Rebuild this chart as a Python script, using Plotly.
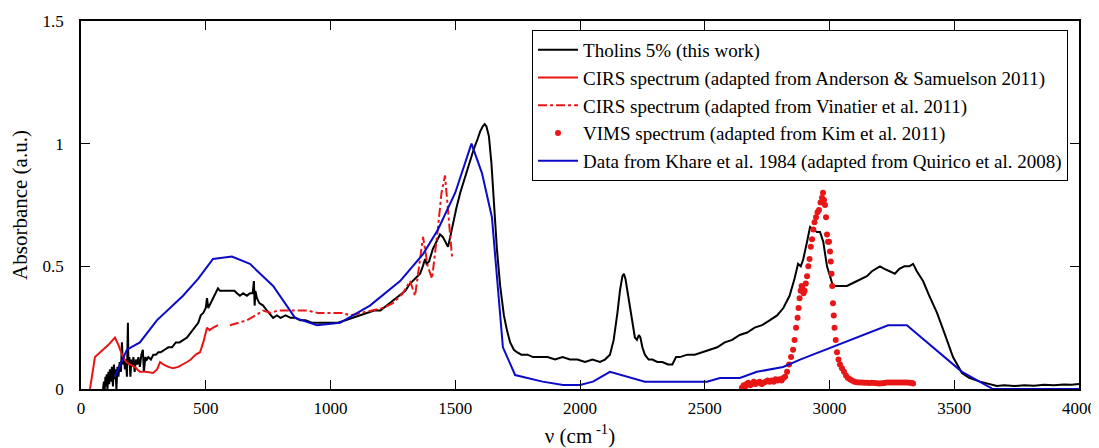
import plotly.graph_objects as go

# ---------------- data ----------------
tholins_x = [88, 92, 95, 98, 100, 103, 106, 110, 113, 116,
             120, 124, 128, 132, 135, 138, 142, 146, 150, 155,
             160, 164, 168, 172, 176, 180, 184, 188, 190, 194,
             198, 202, 206, 210, 215, 220, 225, 230, 236, 242,
             248, 252, 258, 264, 270, 280, 290, 300, 310, 320,
             335, 350, 365, 380, 395, 410, 425, 440, 455, 470,
             480, 490, 500, 505, 510, 520, 530, 540, 549, 557,
             570, 585, 600, 615, 625, 637, 650, 665, 677, 688,
             693, 696, 699, 705, 715, 730, 745, 760, 770, 785,
             800, 820, 840, 860, 878, 900, 925, 950, 975, 1000,
             1030, 1060, 1090, 1120, 1146, 1175, 1200, 1226, 1250, 1275,
             1300, 1319, 1340, 1359, 1370, 1379, 1385, 1395, 1410, 1425,
             1439, 1450, 1460, 1471, 1480, 1491, 1505, 1520, 1535, 1547,
             1560, 1575, 1590, 1600, 1610, 1618, 1625, 1635, 1645, 1655,
             1667, 1680, 1695, 1707, 1720, 1735, 1747, 1765, 1790, 1812,
             1840, 1870, 1900, 1930, 1960, 1990, 2020, 2050, 2080, 2100,
             2120, 2135, 2150, 2160, 2170, 2176, 2182, 2190, 2200, 2210,
             2220, 2228, 2236, 2242, 2250, 2260, 2275, 2290, 2310, 2330,
             2353, 2370, 2385, 2400, 2430, 2460, 2490, 2520, 2550, 2580,
             2610, 2640, 2670, 2700, 2730, 2760, 2790, 2815, 2840, 2860,
             2874, 2885, 2895, 2910, 2922, 2935, 2950, 2962, 2975, 2990,
             3002, 3014, 3030, 3050, 3070, 3090, 3110, 3130, 3150, 3170,
             3185, 3202, 3220, 3240, 3262, 3280, 3300, 3320, 3335, 3350,
             3375, 3400, 3431, 3460, 3495, 3531, 3560, 3603, 3640, 3671,
             3700, 3740, 3780, 3820, 3860, 3900, 3940, 3970, 4000]
tholins_y = [0.0, 0.03, 0.0, 0.05, 0.01, 0.06, 0.0, 0.07, 0.02, 0.08,
             0.03, 0.09, 0.01, 0.10, 0.04, 0.08, 0.0, 0.09, 0.05, 0.11,
             0.07, 0.19, 0.10, 0.13, 0.08, 0.12, 0.05, 0.27, 0.10, 0.13,
             0.05, 0.12, 0.09, 0.13, 0.07, 0.12, 0.10, 0.13, 0.09, 0.14,
             0.16, 0.07, 0.13, 0.12, 0.13, 0.12, 0.14, 0.14, 0.15, 0.15,
             0.16, 0.17, 0.17, 0.19, 0.19, 0.20, 0.21, 0.23, 0.25, 0.27,
             0.30, 0.31, 0.33, 0.37, 0.33, 0.35, 0.37, 0.39, 0.41, 0.40,
             0.40, 0.40, 0.40, 0.40, 0.39, 0.38, 0.39, 0.38, 0.39, 0.39,
             0.44, 0.34, 0.40, 0.37, 0.35, 0.34, 0.32, 0.30, 0.29, 0.30,
             0.29, 0.30, 0.29, 0.29, 0.28, 0.28, 0.27, 0.27, 0.27, 0.27,
             0.27, 0.28, 0.29, 0.30, 0.31, 0.32, 0.32, 0.34, 0.36, 0.38,
             0.40, 0.43, 0.45, 0.47, 0.50, 0.53, 0.51, 0.52, 0.57, 0.60,
             0.63, 0.62, 0.60, 0.58, 0.62, 0.68, 0.74, 0.80, 0.85, 0.89,
             0.94, 0.98, 1.02, 1.05, 1.07, 1.08, 1.07, 1.03, 0.92, 0.75,
             0.57, 0.42, 0.30, 0.24, 0.19, 0.16, 0.15, 0.14, 0.14, 0.13,
             0.13, 0.13, 0.12, 0.13, 0.12, 0.12, 0.11, 0.12, 0.11, 0.12,
             0.14, 0.20, 0.31, 0.40, 0.46, 0.47, 0.45, 0.40, 0.33, 0.26,
             0.21, 0.20, 0.22, 0.21, 0.17, 0.14, 0.12, 0.12, 0.11, 0.11,
             0.10, 0.10, 0.13, 0.13, 0.14, 0.14, 0.15, 0.16, 0.17, 0.19,
             0.20, 0.22, 0.23, 0.25, 0.26, 0.28, 0.30, 0.33, 0.38, 0.45,
             0.51, 0.50, 0.53, 0.60, 0.66, 0.65, 0.64, 0.64, 0.60, 0.50,
             0.46, 0.42, 0.42, 0.42, 0.42, 0.43, 0.44, 0.45, 0.46, 0.48,
             0.49, 0.50, 0.49, 0.48, 0.47, 0.49, 0.50, 0.50, 0.51, 0.48,
             0.44, 0.38, 0.31, 0.23, 0.13, 0.065, 0.045, 0.03, 0.02, 0.012,
             0.015, 0.012, 0.015, 0.013, 0.017, 0.015, 0.018, 0.017, 0.02]

anderson_x = [36, 56, 88, 110, 136, 150, 168, 182, 196, 215,
              236, 260, 289, 305, 317, 330, 350, 369, 390, 410,
              425, 440, 460, 477, 490, 505, 515, 530, 549]
anderson_y = [0.0, 0.13, 0.16, 0.18, 0.21, 0.18, 0.13, 0.11, 0.10, 0.09,
              0.07, 0.07, 0.065, 0.08, 0.11, 0.10, 0.09, 0.085, 0.09, 0.10,
              0.11, 0.12, 0.14, 0.15, 0.19, 0.25, 0.24, 0.25, 0.26]

vinatier_x = [597, 630, 665, 700, 730, 760, 790, 820, 850, 878,
              906, 950, 1000, 1050, 1078, 1120, 1160, 1210, 1250, 1290,
              1319, 1339, 1355, 1371, 1390, 1407, 1430, 1445, 1459, 1470,
              1487]
vinatier_y = [0.26, 0.27, 0.28, 0.30, 0.32, 0.31, 0.32, 0.32, 0.32, 0.32,
              0.32, 0.31, 0.31, 0.31, 0.30, 0.31, 0.32, 0.33, 0.35, 0.39,
              0.44, 0.38, 0.50, 0.62, 0.50, 0.45, 0.65, 0.80, 0.87, 0.75,
              0.54]

vims_x = [2649, 2656, 2662, 2668, 2675, 2682, 2690, 2697, 2704, 2712,
          2720, 2728, 2736, 2744, 2752, 2760, 2768, 2776, 2784, 2792,
          2800, 2808, 2815, 2822, 2830, 2838, 2846, 2854, 2860, 2866,
          2872, 2876, 2880, 2884, 2888, 2892, 2896, 2900, 2905, 2910,
          2915, 2920, 2925, 2930, 2935, 2940, 2946, 2952, 2958, 2964,
          2970, 2974, 2978, 2982, 2986, 2990, 2994, 2998, 3002, 3005,
          3008, 3011, 3014, 3017, 3020, 3025, 3030, 3036, 3042, 3050,
          3058, 3066, 3074, 3082, 3090, 3100, 3110, 3120, 3130, 3140,
          3150, 3160, 3170, 3180, 3190, 3200, 3210, 3220, 3230, 3240,
          3250, 3260, 3270, 3280, 3290, 3300, 3310, 3320, 3330, 3335]
vims_y = [0.005, 0.015, 0.01, 0.02, 0.025, 0.015, 0.02, 0.03, 0.02, 0.025,
          0.03, 0.02, 0.025, 0.03, 0.035, 0.03, 0.035, 0.03, 0.04, 0.035,
          0.04, 0.035, 0.045, 0.05, 0.07, 0.10, 0.13, 0.16, 0.20, 0.25,
          0.29, 0.33, 0.37, 0.40, 0.42, 0.41, 0.39, 0.40, 0.43, 0.46,
          0.50, 0.53, 0.58, 0.61, 0.65, 0.68, 0.70, 0.72, 0.73, 0.76,
          0.78, 0.80, 0.77, 0.75, 0.70, 0.63, 0.60, 0.60, 0.56, 0.52,
          0.47, 0.42, 0.35, 0.30, 0.25, 0.20, 0.15, 0.12, 0.10, 0.085,
          0.07, 0.055, 0.045, 0.04, 0.035, 0.03, 0.028, 0.027, 0.026, 0.025,
          0.025, 0.024, 0.025, 0.024, 0.023, 0.022, 0.023, 0.024, 0.026, 0.027,
          0.026, 0.027, 0.026, 0.027, 0.026, 0.027, 0.026, 0.025, 0.024, 0.022]

khare_x = [136, 184, 236, 304, 409, 470, 529, 605, 677, 770,
           858, 946, 1038, 1158, 1279, 1371, 1431, 1500, 1565, 1607,
           1647, 1691, 1740, 1850, 1932, 2000, 2052, 2120, 2260, 2509,
           2561, 2641, 2709, 2814, 2882, 3235, 3310, 3531, 3655, 4000]
khare_y = [0.05, 0.16, 0.19, 0.28, 0.38, 0.45, 0.53, 0.54, 0.51, 0.42,
           0.29, 0.26, 0.27, 0.34, 0.44, 0.55, 0.65, 0.80, 1.00, 0.88,
           0.70, 0.17, 0.057, 0.03, 0.016, 0.016, 0.03, 0.07, 0.03, 0.03,
           0.045, 0.045, 0.07, 0.09, 0.12, 0.26, 0.26, 0.07, 0.0, 0.0]

x_ticks = [0, 500, 1000, 1500, 2000, 2500, 3000, 3500, 4000]
y_ticks = [0, 0.5, 1, 1.5]
y_ticktext = ["0", "0.5", "1", "1.5"]

names = ["Tholins 5% (this work)",
         "CIRS spectrum (adapted from Anderson & Samuelson 2011)",
         "CIRS spectrum (adapted from Vinatier et al. 2011)",
         "VIMS spectrum (adapted from Kim et al. 2011)",
         "Data from Khare et al. 1984 (adapted from Quirico et al. 2008)"]

RED = "rgb(232,22,22)"
BLUE = "rgb(10,10,200)"
FONT = "'Liberation Serif', 'Times New Roman', Times, serif"

fig = go.Figure()
fig.add_trace(go.Scatter(x=tholins_x, y=tholins_y, mode="lines", name=names[0],
                         line=dict(color="black", width=2)))
fig.add_trace(go.Scatter(x=anderson_x, y=anderson_y, mode="lines", name=names[1],
                         line=dict(color=RED, width=2)))
fig.add_trace(go.Scatter(x=vinatier_x, y=vinatier_y, mode="lines", name=names[2],
                         line=dict(color=RED, width=2, dash="dashdot")))
fig.add_trace(go.Scatter(x=vims_x, y=vims_y, mode="markers", name=names[3],
                         marker=dict(color=RED, size=6)))
fig.add_trace(go.Scatter(x=khare_x, y=khare_y, mode="lines", name=names[4],
                         line=dict(color=BLUE, width=2)))

axis_common = dict(showline=True, linecolor="black", linewidth=1.5, mirror="allticks",
                   ticks="inside", ticklen=9, tickwidth=1.2, tickcolor="black",
                   showgrid=False, zeroline=False, automargin=False,
                   tickfont=dict(family=FONT, size=17, color="black"))

# page body has an 8px margin: the figure is sized/offset to compensate
fig.update_layout(
    width=1091, height=440,
    margin=dict(l=73, r=20, t=13, b=59),
    paper_bgcolor="white", plot_bgcolor="white",
    font=dict(family=FONT, color="black"),
    xaxis=dict(range=[0, 4000], tickvals=x_ticks, ticklabelstandoff=3,
               title=dict(text="ν (cm<sup> -1</sup>)", font=dict(family=FONT, size=21), standoff=12),
               **axis_common),
    yaxis=dict(range=[0, 1.5], tickvals=y_ticks, ticktext=y_ticktext, ticklabelstandoff=12,
               title=dict(text="Absorbance (a.u.)", font=dict(family=FONT, size=21), standoff=16),
               **axis_common),
    legend=dict(x=0.989, y=0.9755, xanchor="right", yanchor="top",
                bgcolor="white", bordercolor="black", borderwidth=1,
                font=dict(family=FONT, size=19, color="black"),
                tracegroupgap=0, itemwidth=40),
    showlegend=True,
)

fig.write_html("out.html")
